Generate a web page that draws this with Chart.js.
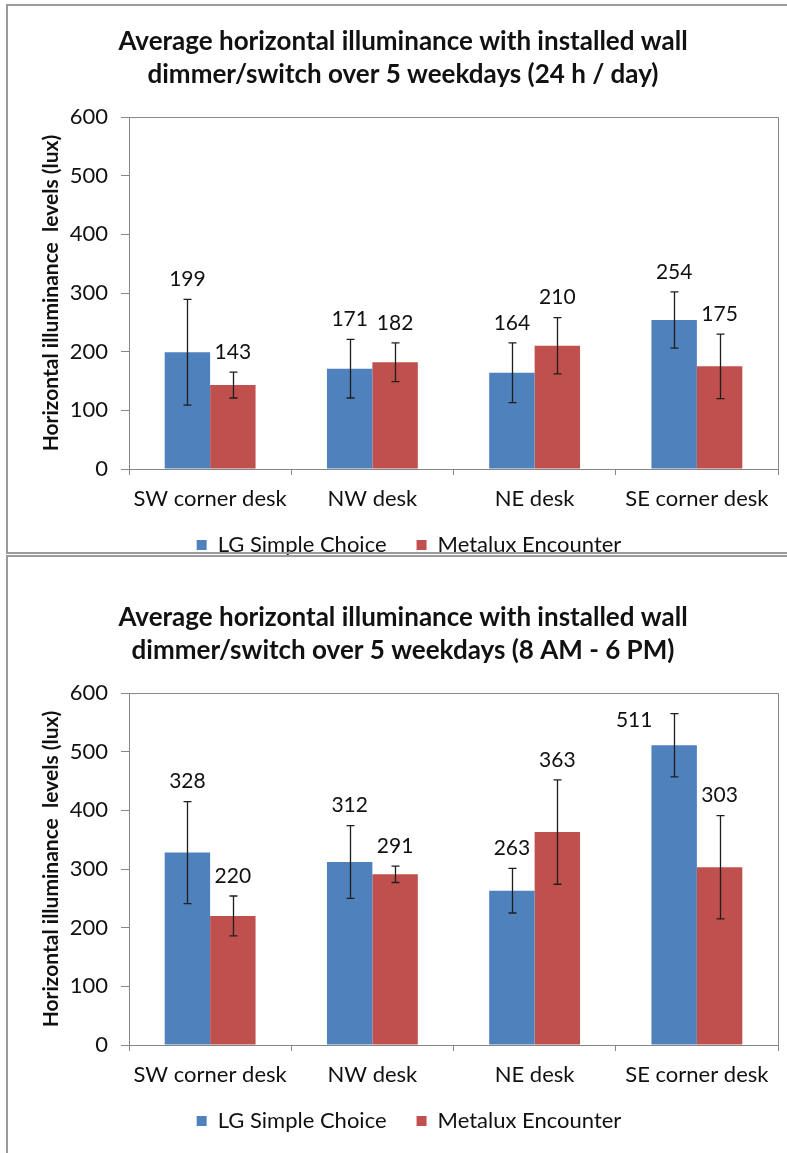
<!DOCTYPE html>
<html lang="en">
  <head>
    <meta charset="UTF-8" />
    <title>Average horizontal illuminance</title>
    <script src="https://cdn.jsdelivr.net/npm/chart.js"></script>
    <style>
      body {
        margin: 0;
        background: #fff;
        width: 787px;
        height: 1153px;
        overflow: hidden;
        position: relative;
      }
      .frame {
        position: absolute;
        left: 6px;
        width: 820px;
        border: 2px solid #9a9a9a;
        pointer-events: none;
        z-index: 2;
      }
      #frame1 { top: 4px; height: 546px; }
      #frame2 { top: 555px; height: 640px; }
      canvas { position: absolute; left: 0; }
      #chart1 { top: 0; }
      #chart2 { top: 576px; }
    </style>
  </head>
  <body>
    <div class="frame" id="frame1"></div>
    <div class="frame" id="frame2"></div>
    <canvas id="chart1" width="787" height="576"></canvas>
    <canvas id="chart2" width="787" height="576"></canvas>

    <script>
      var categories = ["SW corner desk", "NW desk", "NE desk", "SE corner desk"];
      var seriesNames = ["LG Simple Choice", "Metalux Encounter"];
      var yTicks = [0, 100, 200, 300, 400, 500, 600];

      // 24 h / day
      var lgDay = [199, 171, 164, 254];
      var lgDayErr = [90, 50, 51, 48];
      var mxDay = [143, 182, 210, 175];
      var mxDayErr = [22, 33, 48, 55];

      // 8 AM - 6 PM
      var lgWork = [328, 312, 263, 511];
      var lgWorkErr = [87, 62, 38, 54];
      var mxWork = [220, 291, 363, 303];
      var mxWorkErr = [34, 14, 89, 88];

      var FONT = "Lato, 'Open Sans', sans-serif";
      var axisGray = "#868686";

      // move title and legend a little, like the Excel layout
      var nudge = {
        id: "nudge",
        afterLayout: function (chart) {
          var t = chart.titleBlock;
          if (t) { t.left += 14; t.right += 14; }
          var l = chart.legend;
          if (l) { l.left += 20; l.right += 20; l.top -= 10; l.bottom -= 10; }
        },
      };

      var errorBars = {
        id: "errorBars",
        afterDatasetsDraw: function (chart) {
          var ctx = chart.ctx;
          var y = chart.scales.y;
          var area = chart.chartArea;
          ctx.save();
          // plot area box
          ctx.strokeStyle = axisGray;
          ctx.lineWidth = 1;
          ctx.strokeRect(area.left + 0.5, area.top + 0.5, area.right - area.left, area.bottom - area.top);
          chart.data.datasets.forEach(function (ds, i) {
            var meta = chart.getDatasetMeta(i);
            meta.data.forEach(function (bar, j) {
              var v = ds.data[j];
              var e = ds.errors[j];
              var top = y.getPixelForValue(v + e);
              var bot = y.getPixelForValue(v - e);
              var x = Math.round(bar.x) + 0.5;
              ctx.strokeStyle = "#1e1e1e";
              ctx.lineWidth = 1.3;
              ctx.beginPath();
              ctx.moveTo(x, top);
              ctx.lineTo(x, bot);
              ctx.moveTo(x - 4, top);
              ctx.lineTo(x + 4, top);
              ctx.moveTo(x - 4, bot);
              ctx.lineTo(x + 4, bot);
              ctx.stroke();

              // value label above the error bar
              ctx.fillStyle = "#111";
              ctx.font = "21px " + FONT;
              ctx.textAlign = "center";
              ctx.textBaseline = "middle";
              var ly = top - 20;
              var lx = bar.x;
              if (ly - 11 < area.top) {
                lx = bar.x - 40;
                ly = top + 7;
              }
              ctx.fillText(String(v), lx, ly);
            });
          });
          ctx.restore();
        },
      };

      function makeChart(id, titleLines, lg, lgErr, mx, mxErr) {
        var ctx = document.getElementById(id).getContext("2d");
        return new Chart(ctx, {
          type: "bar",
          data: {
            labels: categories,
            datasets: [
              {
                label: seriesNames[0],
                data: lg,
                errors: lgErr,
                backgroundColor: "#4f81bd",
                barPercentage: 1,
                categoryPercentage: 0.56,
              },
              {
                label: seriesNames[1],
                data: mx,
                errors: mxErr,
                backgroundColor: "#c0504d",
                barPercentage: 1,
                categoryPercentage: 0.56,
              },
            ],
          },
          options: {
            responsive: false,
            animation: false,
            devicePixelRatio: 1,
            layout: { padding: { top: 0, left: 0, right: 9, bottom: 0 } },
            scales: {
              x: {
                grid: {
                  offset: true,
                  drawOnChartArea: false,
                  tickLength: 6,
                  color: axisGray,
                },
                border: { color: axisGray },
                ticks: { font: { family: FONT, size: 22 }, color: "#111", padding: 11 },
                afterFit: function (s) { s.height = 45; },
              },
              y: {
                min: 0,
                max: 600,
                afterBuildTicks: function (s) {
                  s.ticks = yTicks.map(function (v) { return { value: v }; });
                },
                grid: {
                  drawOnChartArea: false,
                  tickLength: 8,
                  color: axisGray,
                },
                border: { color: axisGray },
                ticks: { font: { family: FONT, size: 22 }, color: "#111", padding: 13 },
                title: {
                  display: true,
                  text: "Horizontal illuminance  levels (lux)",
                  font: { family: FONT, size: 21, weight: "bold" },
                  color: "#111",
                  padding: { top: 39, bottom: 0 },
                },
                afterFit: function (s) { s.width = 129; },
              },
            },
            plugins: {
              title: {
                display: true,
                text: titleLines,
                font: { family: FONT, size: 26, weight: "bold", lineHeight: 1.27 },
                color: "#111",
                padding: { top: 25, bottom: 26 },
              },
              legend: {
                position: "bottom",
                labels: {
                  boxWidth: 10,
                  boxHeight: 10,
                  padding: 30,
                  font: { family: FONT, size: 22 },
                  color: "#111",
                },
              },
              tooltip: { enabled: false },
            },
          },
          plugins: [errorBars, nudge],
        });
      }

      var c1 = makeChart(
        "chart1",
        ["Average horizontal illuminance with installed wall", "dimmer/switch over 5 weekdays (24 h / day)"],
        lgDay, lgDayErr, mxDay, mxDayErr
      );
      var c2 = makeChart(
        "chart2",
        ["Average horizontal illuminance with installed wall", "dimmer/switch over 5 weekdays (8 AM - 6 PM)"],
        lgWork, lgWorkErr, mxWork, mxWorkErr
      );
    </script>
  </body>
</html>
